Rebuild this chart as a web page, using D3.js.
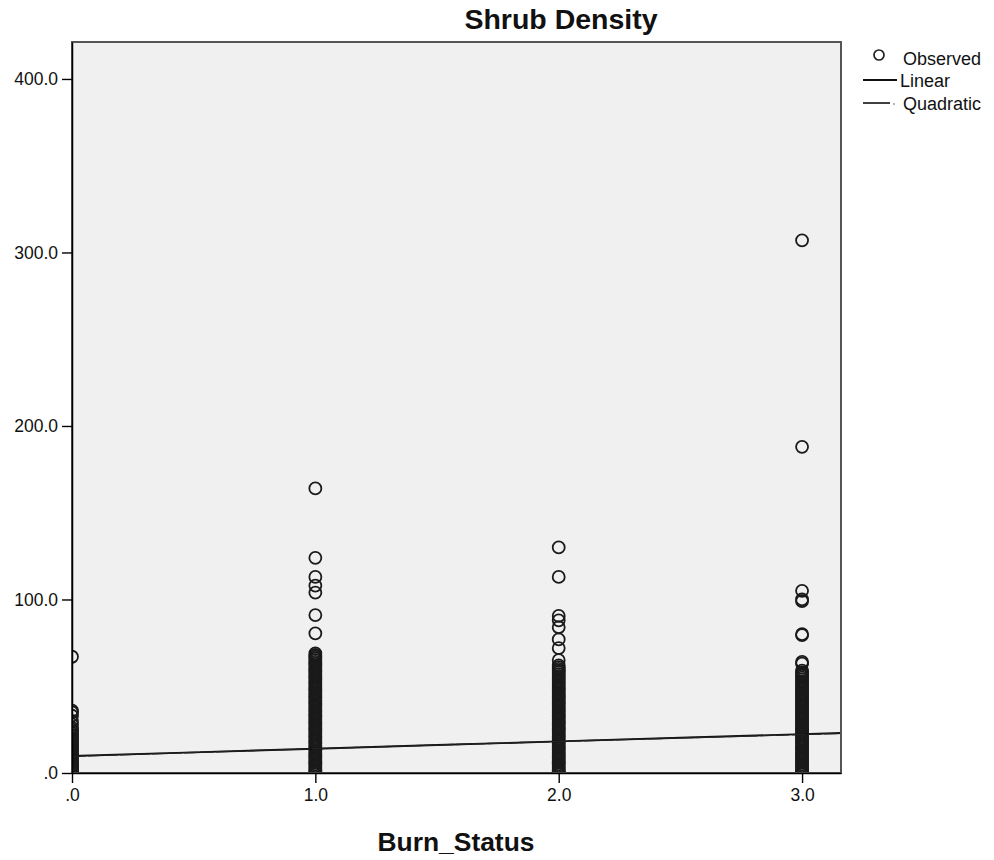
<!DOCTYPE html>
<html>
<head>
<meta charset="utf-8">
<script src="https://cdn.jsdelivr.net/npm/d3@7"></script>
<style>
  body { margin: 0; background: #fff; }
  text { font-family: "Liberation Sans", Arial, sans-serif; }
</style>
</head>
<body>
<svg id="chart" width="994" height="860"></svg>
<script>
// ---- Data ----
const categories = [0, 1, 2, 3];
const xTickLabels = [".0", "1.0", "2.0", "3.0"];
const yTicks = [0, 100, 200, 300, 400];
const yTickLabels = [".0", "100.0", "200.0", "300.0", "400.0"];

const burn0 = [67, 36, 35, 33, 30, 28, 26, 25, 24, 23, 22, 21, 20, 19, 18, 17, 16, 15, 14, 13, 12, 11, 10, 9, 8, 7, 6, 5, 4.5, 4, 3.5, 3, 2.5, 2, 1.5, 1, 0.5, 0, 0];
const burn1 = [164, 124, 113, 108, 104, 91, 80.5, 69, 68, 67, 66, 65, 64, 63, 62, 61, 60, 59, 58, 57, 56, 55, 54, 53, 52, 51, 50, 49, 48, 47, 46, 45, 44, 43, 42, 41, 40, 39, 38, 37, 36, 35, 34, 33, 32, 31, 30, 29, 28, 27, 26, 25, 24, 23, 22, 21, 20, 19, 18, 17, 16, 15, 14, 13, 12, 11, 10, 9, 8, 7, 6, 5, 4, 3, 2, 1, 0.5, 0];
const burn2 = [130, 113, 90.5, 88, 84, 77, 72, 65, 62, 61, 60, 59, 58, 57, 56, 55, 54, 53, 52, 51, 50, 49, 48, 47, 46, 45, 44, 43, 42, 41, 40, 39, 38, 37, 36, 35, 34, 33, 32, 31, 30, 29, 28, 27, 26, 25, 24, 23, 22, 21, 20, 19, 18, 17, 16, 15, 14, 13, 12, 11, 10, 9, 8, 7, 6, 5, 4, 3, 2, 1, 0.5, 0];
const burn3 = [307, 188, 105, 100, 99, 80, 79.5, 64, 63, 59, 58, 57, 56, 55, 54, 53, 52, 51, 50, 49, 48, 47, 46, 45, 44, 43, 42, 41, 40, 39, 38, 37, 36, 35, 34, 33, 32, 31, 30, 29, 28, 27, 26, 25, 24, 23, 22, 21, 20, 19, 18, 17, 16, 15, 14, 13, 12, 11, 10, 9, 8, 7, 6, 5, 4, 3, 2, 1, 0.5, 0];
const observed = [burn0, burn1, burn2, burn3];

// Fitted curves
const linearCoef = [9.8, 4.2];          // a + b*x
const quadraticCoef = [9.6, 4.5, -0.1]; // a + b*x + c*x^2
const fitX = [0, 0.5, 1, 1.5, 2, 2.5, 3, 3.16];

const legendItems = ["Observed", "Linear", "Quadratic"];

// ---- Layout ----
const svg = d3.select("#chart");
const plot = { left: 72, top: 42, right: 841, bottom: 773 };

const x = d3.scaleLinear().domain([0, 3.16]).range([plot.left, plot.right]);
const y = d3.scaleLinear().domain([0, 421.3]).range([plot.bottom, plot.top]);

svg.append("defs").append("clipPath").attr("id", "clip")
  .append("rect")
  .attr("x", plot.left).attr("y", plot.top)
  .attr("width", plot.right - plot.left).attr("height", plot.bottom - plot.top);

// Plot background
svg.append("rect")
  .attr("x", plot.left).attr("y", plot.top)
  .attr("width", plot.right - plot.left).attr("height", plot.bottom - plot.top)
  .attr("fill", "#f0f0f0");

const g = svg.append("g").attr("clip-path", "url(#clip)");

// Observed points
const pts = [];
observed.forEach((arr, i) => arr.forEach(v => pts.push({ c: categories[i], v })));
g.selectAll("circle.obs").data(pts).enter().append("circle")
  .attr("class", "obs")
  .attr("cx", d => x(d.c))
  .attr("cy", d => y(d.v))
  .attr("r", 6)
  .attr("fill", "none")
  .attr("stroke", "#1a1a1a")
  .attr("stroke-width", 1.8);

// Fit lines
const lin = d3.line().x(d => x(d)).y(d => y(linearCoef[0] + linearCoef[1] * d));
const quad = d3.line().x(d => x(d)).y(d => y(quadraticCoef[0] + quadraticCoef[1] * d + quadraticCoef[2] * d * d));
g.append("path").attr("d", lin(fitX)).attr("fill", "none").attr("stroke", "#111").attr("stroke-width", 1.9);
g.append("path").attr("d", quad(fitX)).attr("fill", "none").attr("stroke", "#222").attr("stroke-width", 1.4)
  .attr("stroke-dasharray", "14 2");

// Frame
svg.append("rect")
  .attr("x", plot.left).attr("y", plot.top)
  .attr("width", plot.right - plot.left).attr("height", plot.bottom - plot.top)
  .attr("fill", "none").attr("stroke", "#555").attr("stroke-width", 2);

// Axes
const yAxis = d3.axisLeft(y).tickValues(yTicks).tickSize(10).tickSizeOuter(0).tickPadding(4)
  .tickFormat((d, i) => yTickLabels[i]);
const yg = svg.append("g").attr("transform", `translate(${plot.left},0)`).call(yAxis);
yg.select(".domain").attr("stroke", "#000").attr("stroke-width", 1.5);
yg.selectAll(".tick line").attr("stroke", "#000").attr("stroke-width", 1.4);
yg.selectAll(".tick text").attr("font-size", 17.5).attr("fill", "#111")
  .attr("font-family", "'Liberation Sans', Arial, sans-serif");

const xAxis = d3.axisBottom(x).tickValues(categories).tickSize(10).tickSizeOuter(0).tickPadding(6)
  .tickFormat((d, i) => xTickLabels[i]);
const xg = svg.append("g").attr("transform", `translate(0,${plot.bottom})`).call(xAxis);
xg.select(".domain").attr("stroke", "#000").attr("stroke-width", 1.5);
xg.selectAll(".tick line").attr("stroke", "#000").attr("stroke-width", 1.4);
xg.selectAll(".tick text").attr("font-size", 17.5).attr("fill", "#111")
  .attr("font-family", "'Liberation Sans', Arial, sans-serif");

// Title & axis label
svg.append("text").attr("x", 561).attr("y", 29).attr("text-anchor", "middle")
  .attr("font-size", 28.5).attr("font-weight", "bold").attr("fill", "#111").text("Shrub Density");
svg.append("text").attr("x", 456).attr("y", 851).attr("text-anchor", "middle")
  .attr("font-size", 26.4).attr("font-weight", "bold").attr("fill", "#111").text("Burn_Status");

// Legend
const lg = svg.append("g");
lg.append("circle").attr("cx", 879).attr("cy", 55).attr("r", 5).attr("fill", "none")
  .attr("stroke", "#222").attr("stroke-width", 1.7);
lg.append("text").attr("x", 903).attr("y", 65).attr("font-size", 18).attr("fill", "#111").text(legendItems[0]);
lg.append("line").attr("x1", 863).attr("x2", 897).attr("y1", 80).attr("y2", 80)
  .attr("stroke", "#111").attr("stroke-width", 1.8);
lg.append("text").attr("x", 900).attr("y", 87).attr("font-size", 18).attr("fill", "#111").text(legendItems[1]);
lg.append("line").attr("x1", 863).attr("x2", 890).attr("y1", 103).attr("y2", 103)
  .attr("stroke", "#111").attr("stroke-width", 1.6);
lg.append("circle").attr("cx", 894).attr("cy", 104).attr("r", 0.8).attr("fill", "#555");
lg.append("text").attr("x", 903).attr("y", 110).attr("font-size", 18).attr("fill", "#111").text(legendItems[2]);
</script>
</body>
</html>
